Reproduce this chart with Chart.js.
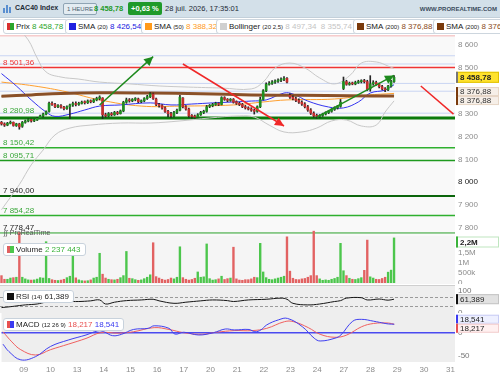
<!DOCTYPE html>
<html>
<head>
<meta charset="utf-8">
<title>CAC40 Index</title>
<script src="https://cdn.jsdelivr.net/npm/chart.js@4.4.1/dist/chart.umd.min.js"></script>
<style>
  body { margin: 0; width: 500px; height: 375px; overflow: hidden; background: #fff; position: relative;
         font-family: "Liberation Sans", Arial, sans-serif; color: #222; }
  canvas { position: absolute; left: 0; }
  .abs { position: absolute; white-space: nowrap; }
  #top { position: absolute; left: 0; top: 0; width: 500px; height: 17px; background: #d3e0e9; border-bottom: 1px solid #c3d0da; }
  .tag { position: absolute; top: 19px; height: 13px; line-height: 13px; border: 1px solid #cdd6de; border-radius: 3px;
         background: #fff; font-size: 8px; padding: 0 4px 0 3px; white-space: nowrap; }
  .sq { display: inline-block; width: 7px; height: 7px; vertical-align: -1px; margin-right: 2px; }
  .sm { font-size: 6px; }
  .box { position: absolute; left: 3px; height: 11px; line-height: 11px; border: 1px solid #c8d2dc; border-radius: 3px;
         background: #fff; font-size: 8px; padding: 0 4px 0 3px; white-space: nowrap; }
  .sep { position: absolute; left: 0; width: 455px; height: 1px; background: #cfcfcf; }
</style>
</head>
<body>
<div id="top">
  <svg class="abs" style="left:3px;top:4px" width="9" height="9"><rect x="0" y="4" width="2" height="5" fill="#5a8fd0"/><rect x="3" y="1" width="2" height="8" fill="#5a8fd0"/><rect x="6" y="3" width="2" height="6" fill="#5a8fd0"/></svg>
  <span class="abs" style="left:15px;top:4px;font-size:7px;font-weight:bold;color:#1d2a36">CAC40 Index</span>
  <span class="abs" style="left:63px;top:3px;height:10px;line-height:10px;padding:0 3px;font-size:6px;color:#4b6070;border:1px solid #8fa4b4;border-radius:2px;background:#e3ecf2">1 HEURE</span>
  <span class="abs" style="left:94px;top:4px;font-size:7.5px;font-weight:bold;color:#1f9a2a">8 458,78</span>
  <span class="abs" style="left:128px;top:2px;height:13px;line-height:13px;padding:0 3px;font-size:7.5px;font-weight:bold;color:#fff;background:#1f9a2a;border-radius:2px">+0,63 %</span>
  <span class="abs" style="left:165px;top:4px;font-size:7.5px;color:#1d2a36">28 juil. 2026, 17:35:01</span>
  <span class="abs" style="right:3px;top:6px;font-size:6px;font-weight:bold;color:#3a4b5c">WWW.PROREALTIME.COM</span>
</div>

<div class="tag" style="left:3px"><span class="sq" style="background:linear-gradient(90deg,#d83030 50%,#2aa52a 50%)"></span>Prix <span style="color:#2aa52a">8 458,78</span></div>
<div class="tag" style="left:65px"><span class="sq" style="background:#2020e0"></span>SMA <span class="sm">(20)</span> <span style="color:#2020e0">8 426,54</span></div>
<div class="tag" style="left:141px"><span class="sq" style="background:#ff9a1a"></span>SMA <span class="sm">(50)</span> <span style="color:#ff9a1a">8 388,32</span></div>
<div class="tag" style="left:216px"><span class="sq" style="background:#d0d0d0"></span>Bollinger <span class="sm">(20 2,5)</span> <span style="color:#c4c4c4">8 497,34 &nbsp;8 355,74</span></div>
<div class="tag" style="left:353px"><span class="sq" style="background:#7a3a0c"></span>SMA <span class="sm">(200)</span> <span style="color:#8a4a1a">8 376,88</span></div>
<div class="tag" style="left:433px"><span class="sq" style="background:#7a3a0c"></span>SMA <span class="sm">(200)</span> <span style="color:#8a4a1a">8 376,88</span></div>

<canvas id="main" width="500" height="201" style="top:35px"></canvas>
<canvas id="vol" width="500" height="58" style="top:226px"></canvas>
<canvas id="rsi" width="500" height="27" style="top:286px"></canvas>
<canvas id="macd" width="500" height="62" style="top:313px"></canvas>
<div class="sep" style="top:285px"></div>

<span class="abs" style="left:4px;top:229px;font-size:7px;color:#555">&#8747;&#8747; ProRealTime</span>
<div class="box" style="top:243px"><span class="sq" style="background:linear-gradient(90deg,#e06060 50%,#4cc64c 50%)"></span>Volume <span style="color:#3bb33b">2 237 443</span></div>
<div class="box" style="top:290px"><span class="sq" style="background:#111"></span>RSI <span class="sm">(14)</span> 61,389</div>
<div class="box" style="top:318px"><span class="sq" style="background:linear-gradient(90deg,#e85050 50%,#3a3af0 50%)"></span>MACD <span class="sm">(12 26 9)</span> <span style="color:#e85050">18,217</span> <span style="color:#3a3af0">18,541</span></div>

<script>
// ---- hourly bars: 7 bars of 08 juil., then 9 bars per session (09h..17h)
const open = [
  8262,8255,8250,8258,8262,8248,8255,
  8245,8262,8268,8274,8268,8272,8280,8290,8298,
  8310,8345,8340,8330,8335,8328,8322,8330,8338,
  8344,8340,8345,8350,8348,8355,8352,8360,8366,
  8368,8295,8290,8300,8295,8305,8300,8312,8350,
  8360,8356,8362,8364,8352,8356,8366,8374,8386,
  8364,8340,8335,8325,8310,8300,8290,8305,8315,
  8368,8330,8320,8290,8288,8285,8295,8305,8310,
  8332,8335,8340,8344,8340,8370,8362,8358,8362,
  8352,8345,8340,8330,8325,8320,8315,8310,8330,
  8362,8400,8428,8432,8438,8442,8446,8450,8454,
  8380,8372,8365,8358,8350,8342,8330,8316,8302,
  8292,8288,8292,8298,8304,8310,8318,8325,8332,
  8410,8440,8428,8432,8430,8436,8440,8442,8440,
  8408,8430,8436,8428,8418,8408,8404,8420,8440
];
const high = [
  8266,8260,8262,8268,8264,8258,8258,
  8266,8272,8278,8276,8276,8284,8294,8302,8312,
  8350,8352,8345,8340,8340,8332,8334,8342,8350,
  8352,8350,8355,8356,8360,8360,8365,8372,8378,
  8370,8302,8305,8305,8310,8310,8316,8354,8368,
  8366,8366,8370,8368,8360,8370,8380,8392,8390,
  8368,8345,8340,8330,8315,8306,8310,8320,8380,
  8370,8335,8324,8296,8294,8300,8310,8315,8336,
  8340,8345,8350,8348,8374,8374,8366,8366,8366,
  8356,8350,8345,8336,8330,8326,8320,8334,8372,
  8405,8435,8440,8444,8448,8452,8456,8462,8458,
  8388,8378,8372,8365,8356,8348,8336,8322,8308,
  8298,8296,8302,8308,8314,8322,8330,8336,8362,
  8460,8446,8438,8438,8442,8446,8448,8450,8446,
  8466,8444,8442,8434,8424,8414,8424,8446,8466
];
const low = [
  8250,8244,8247,8255,8245,8244,8232,
  8240,8258,8264,8263,8265,8270,8278,8286,8294,
  8306,8336,8326,8326,8324,8316,8318,8278,8332,
  8334,8336,8342,8342,8344,8347,8348,8356,8360,
  8278,8284,8286,8290,8292,8295,8298,8308,8345,
  8350,8352,8356,8348,8348,8352,8362,8370,8362,
  8335,8328,8320,8305,8286,8282,8286,8300,8312,
  8325,8315,8284,8280,8280,8282,8292,8300,8306,
  8326,8330,8336,8335,8338,8358,8352,8354,8346,
  8340,8335,8326,8320,8316,8310,8298,8306,8326,
  8360,8396,8424,8428,8432,8436,8440,8444,8434,
  8366,8360,8352,8345,8336,8325,8310,8296,8284,
  8280,8282,8288,8294,8300,8306,8314,8320,8328,
  8405,8424,8424,8426,8426,8432,8434,8434,8400,
  8398,8424,8424,8412,8404,8396,8400,8416,8436
];
const close = [
  8255,8250,8258,8262,8248,8255,8242,
  8262,8268,8274,8268,8272,8280,8290,8298,8308,
  8345,8340,8330,8335,8328,8322,8330,8338,8344,
  8340,8345,8350,8348,8355,8352,8360,8366,8372,
  8295,8290,8300,8295,8305,8300,8312,8350,8360,
  8356,8362,8364,8352,8356,8366,8374,8386,8366,
  8340,8335,8325,8310,8300,8290,8305,8315,8372,
  8330,8320,8290,8288,8285,8295,8305,8310,8330,
  8335,8340,8344,8340,8370,8362,8358,8362,8350,
  8345,8340,8330,8325,8320,8315,8310,8330,8362,
  8400,8428,8432,8438,8442,8446,8450,8454,8438,
  8372,8365,8358,8350,8342,8330,8316,8302,8290,
  8288,8292,8298,8304,8310,8318,8325,8332,8350,
  8440,8428,8432,8430,8436,8440,8442,8440,8406,
  8430,8436,8428,8418,8408,8404,8420,8440,8458.78
];
// volume in thousands of shares
const volumeK = [
  380,200,200,260,280,300,2500,
  300,220,170,160,170,210,280,260,2050,
  240,180,150,140,160,200,280,350,1500,
  270,170,130,120,130,170,260,300,1480,
  450,260,200,180,170,200,280,380,1570,
  250,230,180,150,170,230,300,420,2000,
  330,260,200,160,190,260,220,300,1800,
  280,200,160,190,250,560,300,320,1940,
  230,160,180,220,350,190,230,260,1780,
  220,160,150,180,180,220,300,280,1970,
  560,280,200,180,220,260,300,350,2290,
  600,250,190,180,220,240,300,380,2570,
  380,220,150,170,150,200,240,300,1970,
  620,380,250,200,190,230,280,640,2130,
  320,260,200,190,240,300,550,650,2237.443
];

// ---- indicator lines: [bar index, value]
const sma20Pts = [[0,8475],[5,8421],[10,8360],[15,8307],[18,8288],[23,8298],[28,8316],[33,8333],[40,8338],
  [50,8347],[57,8338],[64,8342],[71,8347],[78,8351],[84,8355],[89,8360],[95,8390],[98,8386],[103,8355],
  [110,8329],[115,8325],[120,8351],[124,8390],[129,8403],[132,8426.54]];
const sma50Pts = [[0,8438],[11,8421],[22,8395],[33,8360],[47,8333],[60,8333],[78,8338],[88,8351],[96,8360],
  [112,8364],[123,8381],[132,8388.32]];
const sma200Pts = [[0,8376],[10,8382],[20,8388],[33,8391],[50,8390],[67,8387],[84,8382],[101,8380],[117,8378],[132,8376.88]];
const bollUpPts = [[0,8800],[4,8700],[9,8622],[12,8543],[15,8482],[20,8460],[26,8451],[33,8438],[43,8430],[53,8421],
  [63,8416],[74,8412],[84,8408],[88,8438],[92,8500],[97,8521],[102,8500],[107,8456],[112,8430],[117,8465],
  [121,8521],[126,8526],[130,8508],[132,8497.34]];
const bollLowPts = [[0,7880],[6,7990],[10,8076],[14,8141],[18,8207],[23,8237],[30,8250],[40,8259],[50,8259],
  [60,8268],[70,8281],[80,8290],[85,8285],[90,8250],[95,8220],[101,8220],[106,8237],[111,8268],[116,8272],
  [121,8246],[126,8250],[129,8307],[132,8355.74]];
const rsiPts = [[0,24],[3,28],[6,33],[8,36],[12,40],[15,48],[19,48],[22,51],[26,51],[30,54],[33,58],[35,40],
  [38,48],[42,55],[47,58],[51,61],[53,54],[58,43],[62,48],[67,54],[71,58],[76,55],[78,51],[83,58],[89,61],
  [94,66],[96,61],[98,43],[103,36],[107,40],[112,51],[114,55],[116,66],[121,68],[123,58],[127,62],[130,57],[132,61.389]];
const macdPts = [[0,-25],[2,-41],[6,-59],[11,-52],[16,-30],[22,-16],[28,-5],[32,4],[34,2],[37,-6.5],[40,-3.5],
  [44,7],[49,9.5],[51,15],[56,9.5],[58,-3],[61,1],[66,-5],[71,0],[75,8],[78,6],[83,7],[85,2],[87,6],[89,17],
  [93,28],[96,31],[101,13],[105,-12],[107,-18],[112,-12],[114,-5],[118,25],[121,29],[125,25],[127,22.5],[130,19],[132,18.541]];
const signalPts = [[0,2],[3,-20],[6,-37],[11,-48.5],[16,-37],[22,-25],[28,-12.5],[33,0],[39,-1],[44,2],[51,11],
  [56,7],[61,0],[67,-3.5],[72,1],[78,4.5],[84,4.5],[89,9.5],[95,24],[98,24],[103,11],[107,-3.5],[112,-10],
  [116,-5],[121,13],[125,20],[130,21],[132,18.217]];

// ---- drawn objects (prices)
const resistance = 8501.36;
const topLevel = 8640;
const guideLevels = [8553, 8517, 8432, 8398, 8302];
const supports = [8280.98, 8150.42, 8095.71, 7940.00, 7854.28, 7778.47];
const trendLines = [[33, 8338, 51, 8549], [61, 8517, 95, 8246], [106, 8285, 132, 8467], [141, 8421, 152, 8298]];

// ---- axes
const priceTicks = [7800, 7900, 8000, 8100, 8200, 8300, 8400, 8500, 8600];
const volTicks = [0, 500, 1000, 1500];
const rsiTicks = [0, 100];
const macdTicks = [-50, 0];
const days = ['09','10','13','14','15','16','17','20','21','22','23','24','27','28','29','30','31'];
const N_SLOTS = 153, FIRST_DAY = 7, BARS_PER_DAY = 9;

const slotLabels = new Array(N_SLOTS).fill('');
days.forEach((d, i) => { slotLabels[FIRST_DAY + i * BARS_PER_DAY] = d; });

const FONT = '"Liberation Sans", Arial, sans-serif';
const AXIS_W = 45;

function frNum(v, d) {
  const s = Math.abs(v).toFixed(d).split('.');
  const int = s[0].replace(/\B(?=(\d{3})+(?!\d))/g, ' ');
  return (v < 0 ? '-' : '') + int + (d ? ',' + s[1] : '');
}
function sparse(pts) {
  const a = new Array(N_SLOTS).fill(null);
  pts.forEach(([i, v]) => { a[i] = v; });
  return a;
}
const isUp = i => close[i] >= open[i];

// y axis with labels painted by a plugin, so no layout padding is added
function yAxis(min, max, ticks) {
  return {
    position: 'right', min: min, max: max,
    afterFit: s => { s.width = AXIS_W; },
    afterBuildTicks: s => { s.ticks = ticks.map(v => ({ value: v })); },
    grid: { display: false, drawTicks: false },
    border: { display: false },
    ticks: { display: false }
  };
}
function tickLabels(ticks, fmt, colorFn) {
  return {
    id: 'tickLabels',
    afterDatasetsDraw(chart) {
      const { ctx, chartArea: a, scales: { y } } = chart;
      ctx.save();
      ctx.font = '8px ' + FONT; ctx.textBaseline = 'middle'; ctx.textAlign = 'left';
      ticks.forEach(v => {
        ctx.fillStyle = colorFn ? colorFn(v) : '#8c8c8c';
        ctx.fillText(fmt(v), a.right + 3, y.getPixelForValue(v));
      });
      ctx.restore();
    }
  };
}
function xAxis(show) {
  const ax = {
    display: show, offset: true,
    grid: { display: false, drawTicks: false }, border: { display: false },
    ticks: { autoSkip: false, maxRotation: 0, padding: 3, font: { size: 8, family: FONT }, color: '#8c8c8c',
             callback: (v, i) => slotLabels[i] }
  };
  if (show) ax.afterFit = s => { s.height = 13; };
  return ax;
}
const baseOpts = {
  responsive: false, animation: false, events: [],
  layout: { padding: 0, autoPadding: false },
  plugins: { legend: { display: false }, tooltip: { enabled: false } }
};
function line(pts, color, width, order) {
  return { type: 'line', data: sparse(pts), borderColor: color, borderWidth: width, pointRadius: 0,
           spanGaps: true, tension: 0.4, order: order, fill: false };
}
function panelFill(color, skipTop) {
  return {
    id: 'panelFill',
    beforeDraw(chart) {
      const { ctx, chartArea: a } = chart;
      const t = a.top + (skipTop || 0);
      ctx.save(); ctx.fillStyle = color; ctx.fillRect(a.left, t, a.right - a.left, a.bottom - t); ctx.restore();
    }
  };
}
function valueBox(ctx, x, cy, text, opt) {
  const h = opt.h || 10, w = AXIS_W - 2;
  ctx.save();
  ctx.fillStyle = opt.bg; ctx.strokeStyle = opt.border; ctx.lineWidth = 1;
  ctx.fillRect(x, cy - h / 2, w, h); ctx.strokeRect(x + 0.5, cy - h / 2 + 0.5, w - 1, h - 1);
  ctx.fillStyle = opt.mark; ctx.fillRect(x, cy - h / 2, 2, h);
  ctx.fillStyle = opt.color || '#222';
  ctx.font = (opt.bold ? 'bold ' : '') + '8px ' + FONT;
  ctx.textBaseline = 'middle'; ctx.textAlign = 'left';
  ctx.fillText(text, x + 4, cy + 0.5);
  ctx.restore();
}

// ---- main price panel
const mainDecor = {
  id: 'mainDecor',
  beforeDatasetsDraw(chart) {
    const { ctx, chartArea: a, scales: { y } } = chart;
    ctx.save();
    ctx.beginPath(); ctx.rect(a.left, a.top, a.right - a.left, a.bottom - a.top); ctx.clip();
    const hl = (v, color, w) => {
      const py = y.getPixelForValue(v);
      ctx.strokeStyle = color; ctx.lineWidth = w;
      ctx.beginPath(); ctx.moveTo(a.left, py); ctx.lineTo(a.right, py); ctx.stroke();
    };
    guideLevels.forEach(v => hl(v, '#c9d5f3', 1));
    hl(topLevel, '#f5b4b4', 1);
    hl(resistance, '#f03434', 1.5);
    const supStyle = [['#0b7a0b', 3], ['#2fb02f', 1.5], ['#1f9a1f', 1.5], ['#0b650b', 2], ['#2fb02f', 1.5], ['#2aa02a', 1]];
    supports.forEach((v, i) => hl(v, supStyle[i][0], supStyle[i][1]));
    ctx.restore();
  },
  afterDatasetsDraw(chart) {
    const { ctx, chartArea: a, scales: { x, y } } = chart;
    ctx.save();
    ctx.beginPath(); ctx.rect(a.left, a.top, a.right - a.left, a.bottom - a.top); ctx.clip();
    const tlStyle = [['#1e8a1e', true], ['#f02828', true], ['#1e8a1e', true], ['#f02828', false]];
    trendLines.forEach(([i0, p0, i1, p1], k) => {
      const x0 = x.getPixelForValue(i0), y0 = y.getPixelForValue(p0);
      const x1 = x.getPixelForValue(i1), y1 = y.getPixelForValue(p1);
      ctx.strokeStyle = tlStyle[k][0]; ctx.fillStyle = tlStyle[k][0]; ctx.lineWidth = 1.5;
      ctx.beginPath(); ctx.moveTo(x0, y0); ctx.lineTo(x1, y1); ctx.stroke();
      if (tlStyle[k][1]) {
        const ang = Math.atan2(y1 - y0, x1 - x0), L = 9, W = 4.5;
        ctx.beginPath();
        ctx.moveTo(x1, y1);
        ctx.lineTo(x1 - L * Math.cos(ang) + W * Math.sin(ang), y1 - L * Math.sin(ang) - W * Math.cos(ang));
        ctx.lineTo(x1 - L * Math.cos(ang) - W * Math.sin(ang), y1 - L * Math.sin(ang) + W * Math.cos(ang));
        ctx.closePath(); ctx.fill();
      }
    });
    // level labels on the left
    ctx.font = '8px ' + FONT; ctx.textBaseline = 'bottom'; ctx.textAlign = 'left';
    ctx.fillStyle = '#f03434';
    ctx.fillText(frNum(resistance, 2), 3, y.getPixelForValue(resistance) - 1);
    const supLab = ['#3aa83a', '#3aa83a', '#3aa83a', '#222', '#3aa83a', '#222'];
    supports.forEach((v, i) => {
      ctx.fillStyle = supLab[i];
      ctx.fillText(frNum(v, 2), 3, y.getPixelForValue(v) - (i === 0 ? 3 : 1));
    });
    ctx.restore();
  },
  afterDraw(chart) {
    const { ctx, chartArea: a, scales: { y } } = chart;
    const last = close[close.length - 1];
    const s200 = sma200Pts[sma200Pts.length - 1][1];
    const bx = a.right + 1;
    valueBox(ctx, bx, y.getPixelForValue(last), frNum(last, 2), { bg: '#ffe22e', border: '#e0c000', mark: '#777', bold: true, h: 11 });
    valueBox(ctx, bx, y.getPixelForValue(s200) - 4.5, frNum(s200, 2), { bg: '#f6efe8', border: '#e6d6c6', mark: '#7a3a0c', color: '#333', h: 9 });
    valueBox(ctx, bx, y.getPixelForValue(s200) + 4.5, frNum(s200, 2), { bg: '#f6efe8', border: '#e6d6c6', mark: '#7a3a0c', color: '#333', h: 9 });
  }
};

new Chart(document.getElementById('main'), {
  type: 'bar',
  data: {
    labels: slotLabels,
    datasets: [
      { data: open.map((o, i) => [o, close[i]]), backgroundColor: c => isUp(c.dataIndex) ? '#1f8f1f' : '#c42e2e',
        barThickness: 2, grouped: false, minBarLength: 1, order: 0 },
      { data: low.map((l, i) => [l, high[i]]), backgroundColor: '#262626', barThickness: 1, grouped: false, order: 1 },
      line(sma200Pts, '#8a5028', 3, 2),
      line(sma200Pts, '#6a3210', 1, 2),
      line(sma20Pts, '#3434f0', 1, 3),
      line(sma50Pts, '#ffa030', 1, 4),
      line(bollUpPts, '#c8c8c8', 1, 5),
      line(bollLowPts, '#c8c8c8', 1, 5)
    ]
  },
  options: Object.assign({}, baseOpts, {
    scales: { x: xAxis(false), y: yAxis(7765.2, 8643.7, priceTicks) }
  }),
  plugins: [panelFill('#f9f9f9'), tickLabels(priceTicks, v => frNum(v, 0), v => v === 8000 ? '#222' : '#8c8c8c'), mainDecor]
});

// ---- volume panel
const VOL_OVERLAP = 10;
const volDecor = {
  id: 'volDecor',
  afterDraw(chart) {
    const { ctx, chartArea: a, scales: { y } } = chart;
    const v = volumeK[volumeK.length - 1];
    const cy = Math.max(y.getPixelForValue(v), a.top + VOL_OVERLAP + 6);
    valueBox(ctx, a.right + 1, cy, frNum(v / 1000, 1) + 'M', { bg: '#fff', border: '#bfe6bf', mark: '#3bb33b', bold: true, h: 11 });
  }
};
new Chart(document.getElementById('vol'), {
  type: 'bar',
  data: {
    labels: slotLabels,
    datasets: [{ data: volumeK, backgroundColor: c => isUp(c.dataIndex) ? '#4cc64c' : '#e26262',
                 barPercentage: 0.8, categoryPercentage: 1 }]
  },
  options: Object.assign({}, baseOpts, {
    scales: { x: xAxis(false), y: yAxis(-49, 2808, volTicks) }
  }),
  plugins: [panelFill('#f5f5f5', VOL_OVERLAP),
            tickLabels(volTicks, v => v === 0 ? '0' : v < 1000 ? v + 'k' : frNum(v / 1000, v % 1000 ? 1 : 0) + 'M'),
            volDecor]
});

// ---- RSI panel
const rsiDecor = {
  id: 'rsiDecor',
  beforeDatasetsDraw(chart) {
    const { ctx, chartArea: a, scales: { y } } = chart;
    ctx.save(); ctx.strokeStyle = '#9a9a9a'; ctx.lineWidth = 1; ctx.setLineDash([3, 2]);
    [70, 30].forEach(v => {
      const py = Math.round(y.getPixelForValue(v)) + 0.5;
      ctx.beginPath(); ctx.moveTo(a.left, py); ctx.lineTo(a.right, py); ctx.stroke();
    });
    ctx.restore();
  },
  afterDraw(chart) {
    const { ctx, chartArea: a, scales: { y } } = chart;
    const v = rsiPts[rsiPts.length - 1][1];
    valueBox(ctx, a.right + 1, y.getPixelForValue(v), frNum(v, 3), { bg: '#e2e2e2', border: '#c4c4c4', mark: '#111', h: 10 });
  }
};
new Chart(document.getElementById('rsi'), {
  type: 'line',
  data: { labels: slotLabels, datasets: [line(rsiPts, '#151515', 1, 0)] },
  options: Object.assign({}, baseOpts, {
    scales: { x: xAxis(false), y: yAxis(0, 120, rsiTicks) }
  }),
  plugins: [panelFill('#eeeeee'), tickLabels(rsiTicks, v => String(v), () => '#777'), rsiDecor]
});

// ---- MACD panel
const macdDecor = {
  id: 'macdDecor',
  beforeDatasetsDraw(chart) {
    const { ctx, chartArea: a, scales: { y } } = chart;
    const py = y.getPixelForValue(0);
    ctx.save(); ctx.strokeStyle = '#4a4af0'; ctx.lineWidth = 1.5;
    ctx.beginPath(); ctx.moveTo(a.left, py); ctx.lineTo(a.right, py); ctx.stroke();
    ctx.restore();
  },
  afterDraw(chart) {
    const { ctx, chartArea: a, scales: { y } } = chart;
    const m = macdPts[macdPts.length - 1][1], s = signalPts[signalPts.length - 1][1];
    const py = y.getPixelForValue((m + s) / 2);
    valueBox(ctx, a.right + 1, py - 5, frNum(m, 3), { bg: '#eef0ff', border: '#c8ccf4', mark: '#3a3af0', h: 9 });
    valueBox(ctx, a.right + 1, py + 4, frNum(s, 3), { bg: '#fff0f0', border: '#f2cccc', mark: '#e85050', h: 9 });
  }
};
new Chart(document.getElementById('macd'), {
  type: 'line',
  data: {
    labels: slotLabels,
    datasets: [line(macdPts, '#4040f0', 1, 0), line(signalPts, '#f06060', 1, 1)]
  },
  options: Object.assign({}, baseOpts, {
    scales: { x: xAxis(true), y: yAxis(-63.7, 42.8, macdTicks) }
  }),
  plugins: [panelFill('#eeeeee'), tickLabels(macdTicks, v => String(v), () => '#777'), macdDecor]
});
</script>
</body>
</html>
